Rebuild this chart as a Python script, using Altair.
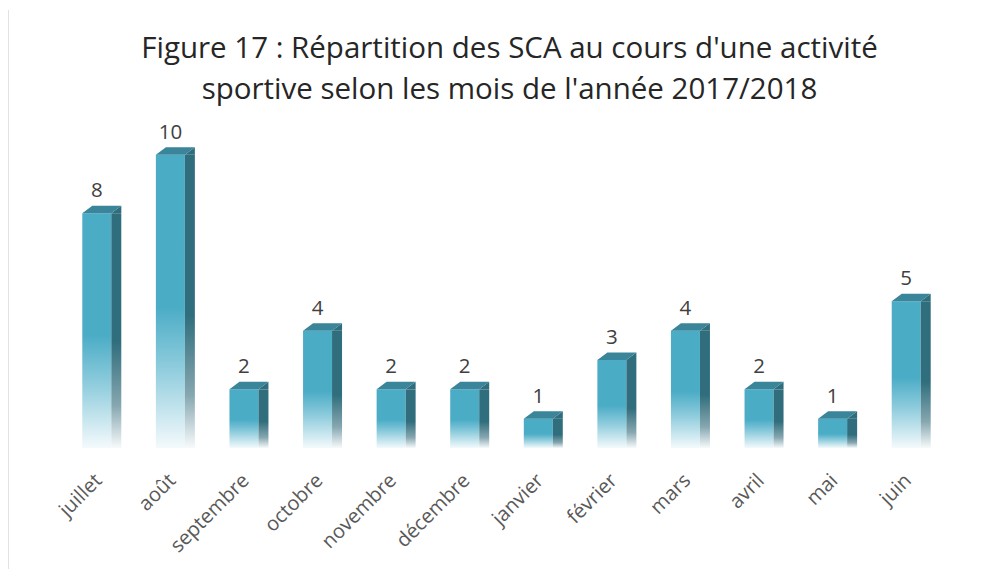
import altair as alt
import pandas as pd

months = ["juillet", "août", "septembre", "octobre", "novembre", "décembre",
          "janvier", "février", "mars", "avril", "mai", "juin"]
values = [8, 10, 2, 4, 2, 2, 1, 3, 4, 2, 1, 5]

df = pd.DataFrame({"mois": months, "n": values})

FONT = "Open Sans"

front_grad = alt.Gradient(
    gradient="linear", x1=0, x2=0, y1=0, y2=1,
    stops=[alt.GradientStop(color="#4bacc6", offset=0),
           alt.GradientStop(color="#4bacc6", offset=0.52),
           alt.GradientStop(color="#8ccbdc", offset=0.72),
           alt.GradientStop(color="#f4fafc", offset=1)])
side_grad = alt.Gradient(
    gradient="linear", x1=0, x2=0, y1=0, y2=1,
    stops=[alt.GradientStop(color="#316e7d", offset=0),
           alt.GradientStop(color="#316e7d", offset=0.55),
           alt.GradientStop(color="#86a7b0", offset=0.82),
           alt.GradientStop(color="#f7fafb", offset=1)])

x = alt.X("mois:N", sort=months, title=None,
          scale=alt.Scale(paddingInner=0, paddingOuter=0),
          axis=alt.Axis(labelAngle=-45, labelFontSize=20, labelColor="#595959",
                        labelFont=FONT, domain=False, ticks=False, labelPadding=22,
                        labelOffset=-5))
y = alt.Y("n:Q", scale=alt.Scale(domain=[0, 10.5]), axis=None, stack=None)

base = alt.Chart(df)

front = base.mark_bar(size=29, color=front_grad).encode(x=x, y=y)
side = base.mark_bar(size=10, xOffset=19.5, y2Offset=-7.5, color=side_grad).encode(x=x, y=y)
top = base.mark_point(shape="M-14.5,0L14.5,0L24.5,-7.5L-4.5,-7.5Z", size=4, filled=True,
                      color="#3a8599", opacity=1, strokeWidth=0).encode(x=x, y=y)
side_tri = base.mark_point(shape="M14.5,0L24.5,-7.5L24.5,0Z", size=4, filled=True,
                           color="#316e7d", opacity=1, strokeWidth=0).encode(x=x, y=y)
labels = base.mark_text(baseline="alphabetic", dy=-16, fontSize=20.5, color="#404040",
                        font=FONT).encode(x=x, y=y, text="n:Q")

border = alt.Chart(pd.DataFrame({"k": [0]})).mark_rule(color="#d9d9d9", strokeWidth=1.5).encode(
    x=alt.value(-52), y=alt.value(-130), y2=alt.value(437))

chart = alt.layer(border, front, side, side_tri, top, labels).properties(
    width=883, height=308,
    title=alt.TitleParams(
        text=["Figure 17 : Répartition des SCA au cours d'une activité",
              "sportive selon les mois de l'année 2017/2018"],
        font=FONT, fontSize=29.5, fontWeight="normal", color="#262626",
        lineHeight=41, anchor="middle", frame="group", dx=8, offset=20, dy=116),
    autosize=alt.AutoSizeParams(type="none"),
    padding={"left": 52, "top": 132, "right": 44, "bottom": 121},
).configure_view(stroke=None)

chart.save("out.html", embed_options={"renderer": "svg", "actions": False})
